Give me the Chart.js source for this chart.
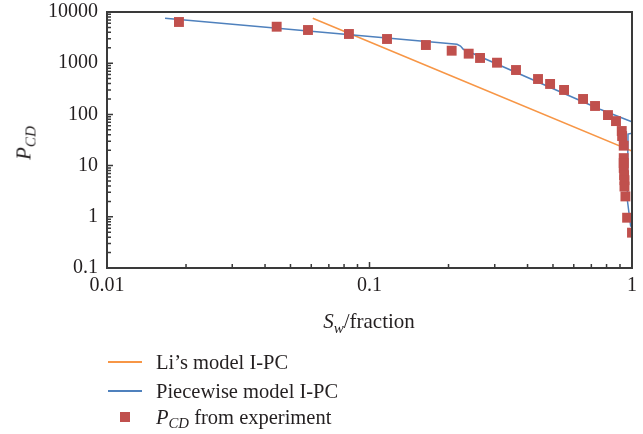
<!DOCTYPE html>
<html>
<head>
<meta charset="utf-8">
<script src="https://cdn.jsdelivr.net/npm/chart.js@4"></script>
<style>
    body { margin: 0; background: #fff; }
    #wrap { position: relative; width: 643px; height: 434px; font-family: 'Liberation Serif', 'DejaVu Serif', serif; color: #231f20; }
    #chart { position: absolute; left: 0; top: 0; }
    .title { position: absolute; font-size: 21px; white-space: nowrap; }
    sub { font-size: 0.72em; vertical-align: -0.3em; line-height: 0; }
    #xTitle { left: 369px; top: 309px; transform: translateX(-50%); }
    #yTitle { left: 24px; top: 143px; transform: translate(-50%, -50%) rotate(-90deg); }
    .legend-row { position: absolute; left: 108px; height: 24px; display: flex; align-items: center; font-size: 20.5px; white-space: nowrap; }
    .legend-row .swatch { width: 34px; display: flex; justify-content: center; align-items: center; margin-right: 14px; }
    .legend-row .line { width: 34px; height: 1.5px; }
    .legend-row .box { width: 10px; height: 10px; background: #c0504d; }
</style>
</head>
<body>
<div id="wrap">
    <canvas id="chart" width="643" height="434"></canvas>
    <div class="title" id="xTitle"><i>S</i><sub><i>w</i></sub>/fraction</div>
    <div class="title" id="yTitle"><i>P</i><sub><i>CD</i></sub></div>
    <div class="legend-row" style="top: 350px;"><span class="swatch"><span class="line" style="background:#f79646"></span></span><span>Li’s model I-PC</span></div>
    <div class="legend-row" style="top: 379px;"><span class="swatch"><span class="line" style="background:#4f81bd"></span></span><span>Piecewise model I-PC</span></div>
    <div class="legend-row" style="top: 405px;"><span class="swatch"><span class="box"></span></span><span><i>P</i><sub><i>CD</i></sub> from experiment</span></div>
</div>
<script>
// Li's model (straight power law on log-log axes)
const liSw = [0.0608, 0.2, 1.0];
const liPcd = [7535, 596, 19.3];

// Piecewise model
const pwSw = [0.01664, 0.2154, 0.2222, 0.2277, 0.755, 0.998, 1.0, 0.9656, 0.96, 0.989];
const pwPcd = [7540, 2338, 2168, 1869, 126, 72, 43, 41.4, 2.13, 0.64];

// Experimental points
const expSw = [0.0188, 0.0443, 0.0583, 0.0835, 0.1166, 0.164, 0.2056, 0.2387, 0.2637, 0.306,
    0.3615, 0.4385, 0.4875, 0.551, 0.651, 0.723, 0.81, 0.869, 0.914, 0.917,
    0.93, 0.93, 0.93, 0.93, 0.933, 0.936, 0.936, 0.944, 0.958, 1.0];
const expPcd = [6380, 5160, 4450, 3720, 2970, 2265, 1754, 1535, 1265, 1023,
    736, 491, 393, 300, 200, 146, 97, 74, 47.4, 37.8,
    24.5, 14, 11.2, 9, 6.5, 5.2, 3.9, 2.5, 0.96, 0.49];

const xTickLabels = ['0.01', '0.1', '1'];
const yTickLabels = ['0.1', '1', '10', '100', '1000', '10000'];

const toPoints = (xs, ys) => xs.map((x, i) => ({ x: x, y: ys[i] }));

// frame + inward tick marks (major and minor)
const framePlugin = {
    id: 'frame',
    afterDraw(chart) {
        const ctx = chart.ctx;
        const area = chart.chartArea;
        const xs = chart.scales.x;
        const ys = chart.scales.y;
        ctx.save();
        ctx.strokeStyle = '#3a3a3a';
        ctx.lineWidth = 1.5;

        ctx.beginPath();
        const xDecades = xTickLabels.map(Number);
        xDecades.forEach((d, i) => {
            const px = xs.getPixelForValue(d);
            ctx.moveTo(px, area.bottom);
            ctx.lineTo(px, area.bottom - 6);
            if (i < xDecades.length - 1) {
                for (let m = 2; m <= 9; m++) {
                    const mx = xs.getPixelForValue(d * m);
                    ctx.moveTo(mx, area.bottom);
                    ctx.lineTo(mx, area.bottom - 4);
                }
            }
        });
        const yDecades = yTickLabels.map(Number);
        yDecades.forEach((d, i) => {
            const py = ys.getPixelForValue(d);
            ctx.moveTo(area.left, py);
            ctx.lineTo(area.left + 6, py);
            if (i < yDecades.length - 1) {
                for (let m = 2; m <= 9; m++) {
                    const my = ys.getPixelForValue(d * m);
                    ctx.moveTo(area.left, my);
                    ctx.lineTo(area.left + 4, my);
                }
            }
        });
        ctx.stroke();

        ctx.lineWidth = 2;
        ctx.strokeRect(area.left, area.top, area.right - area.left, area.bottom - area.top);
        ctx.restore();
    }
};

const tickFont = { family: "'Liberation Serif', 'DejaVu Serif', serif", size: 20 };

new Chart(document.getElementById('chart'), {
    type: 'scatter',
    data: {
        datasets: [
            {
                label: 'P_CD from experiment',
                data: toPoints(expSw, expPcd),
                pointStyle: 'rect',
                pointRadius: 7,
                pointBackgroundColor: '#c0504d',
                pointBorderWidth: 0,
                showLine: false,
                order: 0
            },
            {
                label: 'Piecewise model I-PC',
                data: toPoints(pwSw, pwPcd),
                showLine: true,
                borderColor: '#4f81bd',
                borderWidth: 1.5,
                pointRadius: 0,
                order: 1
            },
            {
                label: "Li's model I-PC",
                data: toPoints(liSw, liPcd),
                showLine: true,
                borderColor: '#f79646',
                borderWidth: 1.5,
                pointRadius: 0,
                order: 2
            }
        ]
    },
    options: {
        responsive: false,
        devicePixelRatio: 1,
        animation: false,
        layout: { padding: { left: 0, top: 12, right: 11, bottom: 136 } },
        plugins: {
            legend: { display: false },
            tooltip: { enabled: false }
        },
        scales: {
            x: {
                type: 'logarithmic',
                min: 0.01,
                max: 1,
                grid: { display: false, drawTicks: false },
                border: { display: false },
                afterBuildTicks: scale => { scale.ticks = xTickLabels.map(v => ({ value: Number(v) })); },
                afterFit: scale => { scale.height = 30; scale.paddingLeft = 0; scale.paddingRight = 0; },
                ticks: {
                    autoSkip: false,
                    maxRotation: 0,
                    padding: 6,
                    color: '#231f20',
                    font: tickFont,
                    callback: (value, index) => xTickLabels[index]
                }
            },
            y: {
                type: 'logarithmic',
                min: 0.1,
                max: 10000,
                grid: { display: false, drawTicks: false },
                border: { display: false },
                afterBuildTicks: scale => { scale.ticks = yTickLabels.map(v => ({ value: Number(v) })); },
                afterFit: scale => { scale.width = 107; scale.paddingTop = 0; scale.paddingBottom = 0; },
                ticks: {
                    autoSkip: false,
                    padding: 9,
                    color: '#231f20',
                    font: tickFont,
                    callback: (value, index) => yTickLabels[index]
                }
            }
        }
    },
    plugins: [framePlugin]
});
</script>
</body>
</html>
